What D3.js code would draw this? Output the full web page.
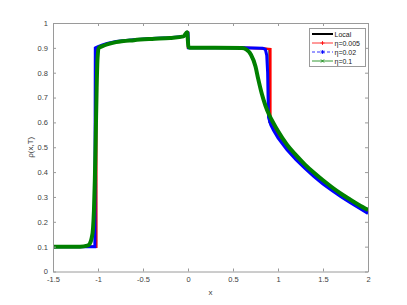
<!DOCTYPE html>
<html>
<head>
<meta charset="utf-8">
<script src="https://cdn.jsdelivr.net/npm/d3@7"></script>
<style>
  body { margin: 0; background: #fff; }
  svg { display: block; font-family: "Liberation Sans", Arial, sans-serif; }
</style>
</head>
<body>
<svg id="chart" width="407" height="305"></svg>
<script>
// values
var xTicks = [-1.5, -1, -0.5, 0, 0.5, 1, 1.5, 2];
var yTicks = [0, 0.1, 0.2, 0.3, 0.4, 0.5, 0.6, 0.7, 0.8, 0.9, 1];

var localX = [-1.5, -1.02, -1.02, -1.0, -0.95, -0.9, -0.8, -0.6, -0.4, -0.2, -0.05, -0.01, 0, 0, 0.3, 0.6, 0.8, 0.905, 0.905, 0.95, 1.0, 1.1, 1.2, 1.3, 1.4, 1.5, 1.6, 1.7, 1.8, 1.9, 2.0];
var localY = [0.1, 0.1, 0.9, 0.903, 0.91, 0.916, 0.924, 0.932, 0.937, 0.94, 0.945, 0.962, 0.962, 0.9, 0.9, 0.9, 0.898, 0.895, 0.6, 0.58, 0.55, 0.5, 0.46, 0.425, 0.39, 0.36, 0.333, 0.308, 0.284, 0.262, 0.24];

var redX = [-1.5, -1.02, -1.02, -1.0, -0.95, -0.9, -0.8, -0.6, -0.4, -0.2, -0.05, -0.01, 0, 0, 0.3, 0.6, 0.8, 0.915, 0.915, 0.95, 1.0, 1.1, 1.2, 1.3, 1.4, 1.5, 1.6, 1.7, 1.8, 1.9, 2.0];
var redY = [0.1, 0.1, 0.9, 0.903, 0.91, 0.916, 0.924, 0.932, 0.937, 0.94, 0.945, 0.962, 0.962, 0.9, 0.9, 0.9, 0.898, 0.895, 0.6, 0.578, 0.548, 0.498, 0.458, 0.422, 0.388, 0.358, 0.331, 0.306, 0.282, 0.26, 0.238];

var blueX = [-1.5, -1.035, -1.03, -1.0, -0.95, -0.9, -0.8, -0.6, -0.4, -0.2, -0.05, -0.01, 0, 0.005, 0.3, 0.6, 0.83, 0.86, 0.875, 0.885, 0.89, 0.895, 0.92, 0.95, 1.0, 1.1, 1.2, 1.3, 1.4, 1.5, 1.6, 1.7, 1.8, 1.9, 2.0];
var blueY = [0.1, 0.1, 0.9, 0.905, 0.912, 0.918, 0.926, 0.933, 0.938, 0.941, 0.946, 0.962, 0.96, 0.9, 0.9, 0.9, 0.898, 0.894, 0.87, 0.8, 0.7, 0.62, 0.59, 0.568, 0.538, 0.49, 0.45, 0.415, 0.382, 0.352, 0.326, 0.301, 0.278, 0.256, 0.234];

var greenX = [-1.5, -1.2, -1.12, -1.09, -1.07, -1.055, -1.045, -1.035, -1.025, -1.015, -1.005, -0.99, -0.95, -0.9, -0.8, -0.6, -0.4, -0.2, -0.05, -0.01, 0.005, 0.02, 0.3, 0.6, 0.65, 0.7, 0.75, 0.78, 0.82, 0.86, 0.9, 0.95, 1.0, 1.1, 1.2, 1.3, 1.4, 1.5, 1.6, 1.7, 1.8, 1.9, 2.0];
var greenY = [0.1, 0.1, 0.104, 0.113, 0.135, 0.175, 0.245, 0.37, 0.55, 0.74, 0.86, 0.9, 0.907, 0.914, 0.923, 0.931, 0.936, 0.94, 0.946, 0.963, 0.905, 0.9, 0.9, 0.899, 0.893, 0.872, 0.825, 0.775, 0.715, 0.668, 0.632, 0.597, 0.565, 0.51, 0.468, 0.43, 0.397, 0.367, 0.339, 0.313, 0.29, 0.268, 0.248];

var seriesNames = ["Local", "\u03b7=0.005", "\u03b7=0.02", "\u03b7=0.1"];
var seriesColors = ["#000000", "#ff0000", "#0000ff", "#008000"];

var svg = d3.select("#chart");
// plot box (window.top is read-only, so no bare "top" here)
var padL = 53, padR = 368, padT = 23, padB = 271.5;

var x = d3.scaleLinear().domain([-1.5, 2]).range([padL, padR]);
var y = d3.scaleLinear().domain([0, 1]).range([padB, padT]);

function zip(xs, ys) {
    return xs.map(function (d, i) { return [d, ys[i]]; });
}

// lines
var straight = d3.line()
    .x(function (d) { return x(d[0]); })
    .y(function (d) { return y(d[1]); });
var smooth = d3.line()
    .x(function (d) { return x(d[0]); })
    .y(function (d) { return y(d[1]); })
    .curve(d3.curveMonotoneX);

var plot = svg.append("g");
plot.append("path").datum(zip(localX, localY))
    .attr("d", straight).attr("fill", "none")
    .attr("stroke", seriesColors[0]).attr("stroke-width", 2);
plot.append("path").datum(zip(redX, redY))
    .attr("d", straight).attr("fill", "none")
    .attr("stroke", seriesColors[1]).attr("stroke-width", 2.5);
plot.append("path").datum(zip(blueX, blueY))
    .attr("d", straight).attr("fill", "none")
    .attr("stroke", seriesColors[2]).attr("stroke-width", 3);
plot.append("path").datum(zip(greenX, greenY))
    .attr("d", smooth).attr("fill", "none")
    .attr("stroke", seriesColors[3]).attr("stroke-width", 4)
    .attr("stroke-linejoin", "round");

// axes, ticks pointing in, box on
var fmt = function (d) { return String(d); };
function style(g, labels) {
    g.select(".domain").attr("stroke", "#9a9a9a");
    g.selectAll(".tick line").attr("stroke", "#9a9a9a");
    g.selectAll(".tick text").attr("fill", "#404040").attr("font-size", "7.5px");
    if (!labels) g.selectAll(".tick text").remove();
}
svg.append("g").attr("transform", "translate(0," + padB + ")")
    .call(d3.axisBottom(x).tickValues(xTicks).tickFormat(fmt).tickSizeInner(-3).tickSizeOuter(0).tickPadding(5))
    .call(style, true);
svg.append("g").attr("transform", "translate(0," + padT + ")")
    .call(d3.axisTop(x).tickValues(xTicks).tickSizeInner(-3).tickSizeOuter(0))
    .call(style, false);
svg.append("g").attr("transform", "translate(" + padL + ",0)")
    .call(d3.axisLeft(y).tickValues(yTicks).tickFormat(fmt).tickSizeInner(-3).tickSizeOuter(0).tickPadding(5))
    .call(style, true);
svg.append("g").attr("transform", "translate(" + padR + ",0)")
    .call(d3.axisRight(y).tickValues(yTicks).tickSizeInner(-3).tickSizeOuter(0))
    .call(style, false);

// axis labels
svg.append("text").attr("x", (padL + padR) / 2).attr("y", 295)
    .attr("text-anchor", "middle").attr("font-size", "8px").attr("fill", "#404040")
    .text("x");
svg.append("text")
    .attr("transform", "translate(33," + ((padT + padB) / 2) + ") rotate(-90)")
    .attr("text-anchor", "middle").attr("font-size", "8px").attr("fill", "#404040")
    .text("\u03c1(x,T)");

// legend
var legend = svg.append("g");
legend.append("rect").attr("x", 309.5).attr("y", 28.5).attr("width", 56).attr("height", 38)
    .attr("fill", "#fff").attr("stroke", "#9a9a9a").attr("stroke-width", 1);
var rows = legend.selectAll("g.row").data(seriesNames).enter().append("g")
    .attr("transform", function (d, i) { return "translate(0," + (34 + i * 9) + ")"; });
rows.append("line").attr("x1", 312).attr("x2", 333).attr("y1", 0).attr("y2", 0)
    .attr("stroke", function (d, i) { return seriesColors[i]; })
    .attr("stroke-width", function (d, i) { return i === 0 ? 2 : 0.8; })
    .attr("stroke-dasharray", function (d, i) { return i === 2 ? "3,2" : null; });
rows.append("text").attr("x", 334.5).attr("y", 2.6).attr("font-size", "7px").attr("fill", "#202020")
    .text(function (d) { return d; });

// legend markers: +, *, x
var mx = 322.5;
var r1 = legend.append("g").attr("transform", "translate(" + mx + ",43)").attr("stroke", seriesColors[1]).attr("stroke-width", 0.8);
r1.append("line").attr("x1", -2).attr("x2", 2).attr("y1", 0).attr("y2", 0);
r1.append("line").attr("x1", 0).attr("x2", 0).attr("y1", -2).attr("y2", 2);
var r2 = legend.append("g").attr("transform", "translate(" + mx + ",52)").attr("stroke", seriesColors[2]).attr("stroke-width", 0.8);
r2.append("line").attr("x1", -2).attr("x2", 2).attr("y1", 0).attr("y2", 0);
r2.append("line").attr("x1", 0).attr("x2", 0).attr("y1", -2).attr("y2", 2);
r2.append("line").attr("x1", -1.5).attr("x2", 1.5).attr("y1", -1.5).attr("y2", 1.5);
r2.append("line").attr("x1", -1.5).attr("x2", 1.5).attr("y1", 1.5).attr("y2", -1.5);
var r3 = legend.append("g").attr("transform", "translate(" + mx + ",61)").attr("stroke", seriesColors[3]).attr("stroke-width", 0.8);
r3.append("line").attr("x1", -1.6).attr("x2", 1.6).attr("y1", -1.6).attr("y2", 1.6);
r3.append("line").attr("x1", -1.6).attr("x2", 1.6).attr("y1", 1.6).attr("y2", -1.6);
</script>
</body>
</html>
